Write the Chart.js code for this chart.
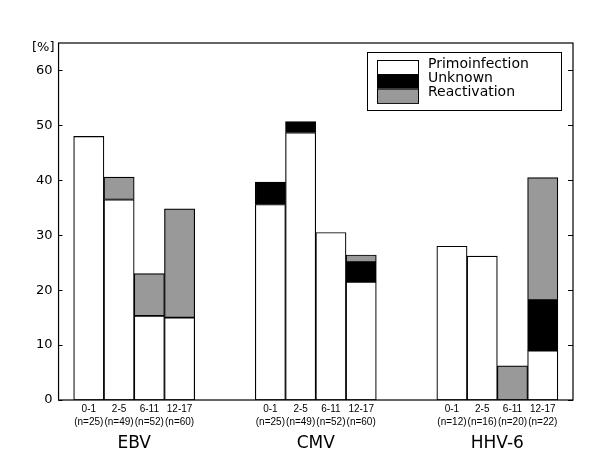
<!DOCTYPE html>
<html>
<head>
<meta charset="utf-8">
<script src="https://cdn.jsdelivr.net/npm/chart.js@4"></script>
<style>
  body { margin: 0; background: #fff; }
  #caixa { width: 600px; height: 469px; }
</style>
</head>
<body>
<div id="caixa"><canvas id="grafico"></canvas></div>
<script>
// dados
let virus = ["EBV", "CMV", "HHV-6"];
let faixas = ["0-1", "2-5", "6-11", "12-17"];
let nPacientes = [[25, 49, 52, 60], [25, 49, 52, 60], [12, 16, 20, 22]];
let primo = [[48, 36.5, 15.3, 15], [35.6, 48.7, 30.5, 21.5], [28, 26.2, null, 9]];
let desconhecido = [[null, null, null, null], [4.1, 2, null, 3.6], [null, null, null, 9.2]];
let reativacao = [[null, 4.1, 7.7, 19.8], [null, null, null, 1.3], [null, null, 6.2, 22.3]];
let series = ["Primoinfection", "Unknown", "Reactivation"];
let cores = ["#ffffff", "#000000", "#999999"];

// monta as categorias com espaços entre os grupos
let labels = [];
let colunas = [[], [], []];
let meioGrupo = [];

function vazio() {
  labels.push("");
  colunas.forEach(c => c.push(null));
}

vazio();
virus.forEach((v, g) => {
  if (g > 0) { vazio(); vazio(); }
  let ini = labels.length;
  faixas.forEach((f, i) => {
    labels.push([f, "(n=" + nPacientes[g][i] + ")"]);
    colunas[0].push(primo[g][i]);
    colunas[1].push(desconhecido[g][i]);
    colunas[2].push(reativacao[g][i]);
  });
  meioGrupo.push((ini + labels.length - 1) / 2);
});
vazio();

// moldura, marcas do eixo, nomes dos grupos e legenda
let extras = {
  id: "extras",
  afterDraw(chart) {
    let ctx = chart.ctx;
    let a = chart.chartArea;
    let x = chart.scales.x;
    let y = chart.scales.y;
    ctx.save();
    ctx.strokeStyle = "#000";
    ctx.lineWidth = 1.2;
    ctx.strokeRect(a.left, a.top, a.right - a.left, a.bottom - a.top);
    ctx.beginPath();
    y.ticks.forEach(t => {
      let py = Math.round(y.getPixelForValue(t.value)) + 0.5;
      ctx.moveTo(a.left, py);
      ctx.lineTo(a.left + 4, py);
      ctx.moveTo(a.right, py);
      ctx.lineTo(a.right - 5, py);
    });
    ctx.stroke();

    ctx.fillStyle = "#000";
    ctx.font = "13px 'DejaVu Sans'";
    ctx.textAlign = "right";
    ctx.textBaseline = "middle";
    ctx.fillText("[%]", a.left - 4, a.top + 5);

    ctx.font = "17px 'DejaVu Sans'";
    ctx.textAlign = "center";
    virus.forEach((v, i) => {
      ctx.fillText(v, x.getPixelForValue(meioGrupo[i]), a.bottom + 44);
    });

    // legenda
    let bx = a.right - 206, by = a.top + 9;
    ctx.lineWidth = 1;
    ctx.strokeRect(bx + 0.5, by + 0.5, 194, 58);
    ctx.font = "14px 'DejaVu Sans'";
    ctx.textAlign = "left";
    chart.data.datasets.forEach((ds, i) => {
      let sy = by + 8 + i * 14.3;
      ctx.fillStyle = ds.backgroundColor;
      ctx.fillRect(bx + 10, sy, 41, 14.3);
      ctx.strokeRect(bx + 10.5, sy + 0.5, 41, 14.3);
      ctx.fillStyle = "#000";
      ctx.fillText(ds.label, bx + 61, sy + 4);
    });
    ctx.restore();
  }
};

let ctx = document.getElementById("grafico").getContext("2d");

let chart = new Chart(ctx, {
  type: "bar",
  data: {
    labels: labels,
    datasets: series.map((s, i) => ({
      label: s,
      data: colunas[i],
      backgroundColor: cores[i],
      borderColor: "#000",
      borderWidth: 1.2,
      borderSkipped: false,
      barPercentage: 1,
      categoryPercentage: 1
    }))
  },
  options: {
    responsive: true,
    maintainAspectRatio: false,
    animation: false,
    layout: { padding: { left: 30, right: 27, top: 43, bottom: 38 } },
    plugins: {
      legend: { display: false },
      tooltip: { enabled: false }
    },
    scales: {
      x: {
        stacked: true,
        offset: false,
        grid: { display: false, drawTicks: false },
        border: { display: false },
        ticks: {
          autoSkip: false,
          maxRotation: 0,
          minRotation: 0,
          padding: 2,
          color: "#000",
          font: { family: "'Liberation Sans'", size: 10, lineHeight: 1.35 }
        }
      },
      y: {
        stacked: true,
        min: 0,
        max: 65,
        grid: { display: false, drawTicks: false },
        border: { display: false },
        ticks: {
          stepSize: 10,
          includeBounds: false,
          padding: 6,
          color: "#000",
          font: { family: "'DejaVu Sans'", size: 13 }
        }
      }
    }
  },
  plugins: [extras]
});
</script>
</body>
</html>
